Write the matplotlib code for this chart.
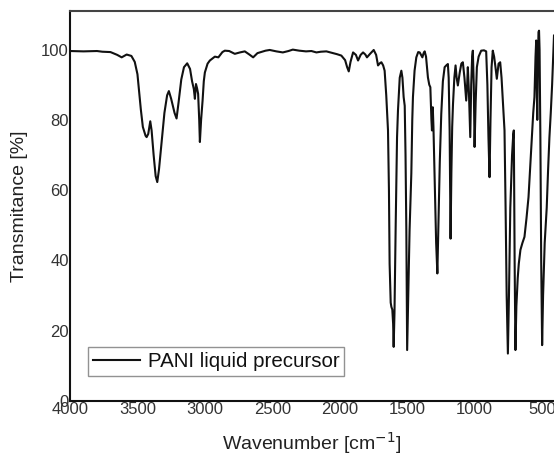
import numpy as np
import matplotlib
matplotlib.use("Agg")
import matplotlib.pyplot as plt

plt.rcParams['font.family'] = ['Liberation Sans', 'DejaVu Sans']

# FTIR spectrum: wavenumber [cm-1], transmitance [%]
wavenumber = [
    4000, 3900, 3800, 3760, 3700, 3650, 3617, 3580, 3545, 3520, 3500, 3490,
    3475, 3460, 3440, 3432, 3420, 3405, 3395, 3380, 3365, 3353, 3340, 3320,
    3300, 3280, 3267, 3250, 3225, 3210, 3195, 3175, 3155, 3131, 3110, 3095,
    3082, 3074, 3066, 3058, 3050, 3042, 3037, 3028, 3017, 3008, 3000, 2980,
    2963, 2950, 2926, 2900, 2870, 2852, 2820, 2778, 2740, 2704, 2670, 2642,
    2610, 2593, 2550, 2519, 2470, 2422, 2380, 2348, 2300, 2250, 2210, 2173,
    2140, 2099, 2050, 2020, 1988, 1960, 1945, 1933, 1920, 1901, 1880, 1864,
    1845, 1827, 1810, 1798, 1775, 1748, 1730, 1716, 1700, 1691, 1678, 1667,
    1655, 1642, 1635, 1630, 1622, 1617, 1610, 1604, 1600, 1594, 1585, 1575,
    1568, 1555, 1543, 1535, 1526, 1518, 1512, 1506, 1500, 1492, 1482, 1475,
    1469, 1462, 1457, 1445, 1432, 1418, 1407, 1397, 1387, 1378, 1370, 1360,
    1346, 1336, 1328, 1320, 1316, 1310, 1305, 1295, 1285, 1276, 1268, 1258,
    1247, 1235, 1222, 1210, 1198, 1192, 1185, 1178, 1172, 1166, 1160, 1150,
    1141, 1133, 1124, 1110, 1098, 1087, 1075, 1062, 1055, 1050, 1042, 1032,
    1025, 1018, 1013, 1006, 1000, 992, 983, 970, 951, 930, 914, 905,
    897, 889, 882, 874, 865, 855, 845, 835, 822, 810, 800, 790,
    778, 770, 762, 753, 745, 735, 722, 713, 709, 703, 697, 690,
    680, 672, 660, 645, 630, 615, 600, 593, 580, 565, 556, 548,
    543, 539, 535, 531, 526, 522, 518, 512, 506, 499, 492, 480,
    465, 455, 445, 435, 425, 418, 411,
]
transmitance = [
    99.6, 99.5, 99.6, 99.4, 99.3, 98.5, 97.8, 98.6, 98.2, 96.5, 93.0, 89.0,
    83.0, 78.0, 75.5, 75.1, 76.0, 79.6, 77.0, 70.0, 64.0, 62.3, 66.0, 74.0,
    82.0, 87.0, 88.2, 86.0, 82.0, 80.4, 85.0, 91.5, 95.0, 96.1, 94.5, 91.0,
    88.8, 86.0, 90.2, 89.0, 87.4, 80.0, 73.7, 80.0, 85.5, 91.0, 93.5, 96.0,
    96.9, 97.3, 98.0, 97.8, 99.3, 99.7, 99.6, 98.8, 99.2, 99.5, 98.6, 97.8,
    99.0, 99.2, 99.7, 99.9, 99.5, 99.2, 99.6, 100.0, 99.7, 99.5, 99.6, 99.2,
    99.4, 99.5, 99.0, 98.7, 98.3, 97.0, 95.0, 93.8, 96.5, 99.2, 98.5, 96.9,
    98.5, 99.2, 98.6, 97.8, 98.8, 99.9, 98.5, 95.5, 96.2, 96.4, 95.5, 94.0,
    87.0, 77.0, 60.0, 39.0, 28.0, 26.8, 26.0, 22.0, 15.4, 25.0, 50.0, 75.0,
    82.7, 92.0, 94.0, 92.0, 86.5, 84.0, 70.0, 48.6, 14.5, 30.0, 48.6, 57.0,
    64.8, 80.0, 86.5, 94.0, 97.8, 99.3, 99.2, 98.5, 97.8, 99.0, 99.5, 98.0,
    92.1, 90.0, 89.3, 80.0, 77.0, 83.6, 78.0, 62.0, 45.0, 36.3, 50.0, 68.0,
    81.7, 91.0, 95.0, 95.5, 95.9, 92.0, 77.0, 46.2, 65.0, 78.0, 84.5, 92.0,
    95.5, 92.0, 89.8, 93.5, 96.0, 96.4, 92.0, 85.5, 90.0, 95.0, 88.0, 75.1,
    90.0, 98.0, 99.7, 90.0, 72.3, 85.0, 95.0, 98.0, 99.7, 99.8, 99.5, 90.0,
    75.0, 63.7, 80.0, 95.0, 99.7, 98.0, 95.0, 91.7, 96.0, 96.4, 92.0, 85.0,
    77.0, 55.0, 30.0, 13.5, 30.0, 55.0, 70.0, 76.0, 77.0, 40.0, 14.5, 27.0,
    35.0, 39.1, 43.0, 45.0, 46.7, 52.0, 58.0, 62.8, 72.0, 82.0, 86.5, 98.0,
    102.6, 90.0, 80.0, 95.0, 105.0, 105.4, 100.0, 75.0, 40.0, 15.9, 30.0, 45.0,
    55.0, 65.6, 75.0, 82.0, 90.0, 97.0, 104.0,
]
x_ticks = [4000, 3500, 3000, 2500, 2000, 1500, 1000, 500]
y_ticks = [0, 20, 40, 60, 80, 100]

fig = plt.figure(figsize=(5.54, 4.53), dpi=100)
ax = fig.add_axes([0.1264, 0.1148, 0.8736, 0.861])

ax.plot(wavenumber, transmitance, color='#111111', linewidth=1.5,
        label='PANI liquid precursor')

ax.set_xlim(4000, 411)
ax.set_ylim(0, 111)
ax.set_xticks(x_ticks)
ax.set_yticks(y_ticks)
ax.tick_params(length=0, labelsize=12, colors='#333333', pad=1)

ax.set_xlabel('Wavenumber [cm$^{-1}$]', fontsize=14, labelpad=9,
              color='#222222')
ax.set_ylabel('Transmitance [%]', fontsize=14, labelpad=9, color='#222222')

for side in ['left', 'bottom']:
    ax.spines[side].set_linewidth(1.5)
    ax.spines[side].set_color('#111111')
ax.spines['top'].set_linewidth(1.5)
ax.spines['top'].set_color('#444444')
ax.spines['right'].set_visible(False)

leg = ax.legend(loc='lower left', bbox_to_anchor=(0.037, 0.064),
                borderaxespad=0, fontsize=14.8, fancybox=False,
                handlelength=2.3, handletextpad=0.35, borderpad=0.25,
                labelcolor='#111111')
leg.get_frame().set_edgecolor('#777777')
leg.get_frame().set_linewidth(1.0)

fig.savefig('out.png', dpi=100)
